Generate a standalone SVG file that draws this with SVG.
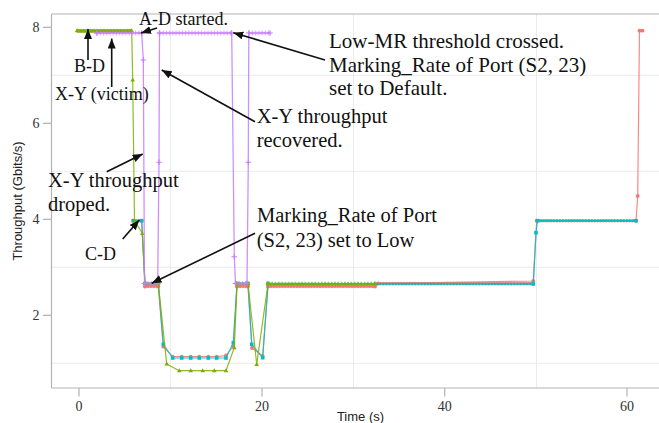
<svg xmlns="http://www.w3.org/2000/svg" width="659" height="423" viewBox="0 0 659 423">
<style>
.grid{stroke:#ececec;stroke-width:1;fill:none}
.axis{stroke:#b3b3b3;stroke-width:1.2;fill:none}
.tick{stroke:#b3b3b3;stroke-width:1.2}
.tl{font-family:"Liberation Serif",serif;font-size:14px;fill:#333}
.al{font-family:"Liberation Sans",Arial,sans-serif;font-size:13px;fill:#222}
.ann{font-family:"Liberation Serif",serif;fill:#111}
.s18{font-size:18px}
.s20{font-size:20.5px}
.s21{font-size:21px}
.arr{stroke:#111;stroke-width:1.6;fill:none;marker-end:url(#ah)}
.lnR{stroke:#F8766D;stroke-width:1.2;fill:none;stroke-opacity:.85;marker-start:url(#mR);marker-mid:url(#mR);marker-end:url(#mR)}
.lnC{stroke:#00BFC4;stroke-width:1.2;fill:none;stroke-opacity:.85;marker-start:url(#mC);marker-mid:url(#mC);marker-end:url(#mC)}
.lnG{stroke:#7CAE00;stroke-width:1.2;fill:none;stroke-opacity:.85;marker-start:url(#mG);marker-mid:url(#mG);marker-end:url(#mG)}
.lnP{stroke:#C77CFF;stroke-width:1.3;fill:none;stroke-opacity:.85;marker-start:url(#mP);marker-mid:url(#mP);marker-end:url(#mP)}
.dR{stroke:#F8766D;stroke-width:3.4;stroke-linecap:round;stroke-dasharray:0 2.9;opacity:.9}
.dC{stroke:#00BFC4;stroke-width:2.4;stroke-linecap:square;stroke-dasharray:0 3.2;opacity:.9}
.dPh{stroke:#C77CFF;stroke-width:2.6;opacity:.45}
.dPv{stroke:#C77CFF;stroke-width:5;stroke-dasharray:1 2.2;opacity:.6}
</style>
<defs>
<marker id="ah" markerUnits="userSpaceOnUse" markerWidth="12" markerHeight="10" refX="10" refY="4" orient="auto"><path d="M0,0 L10,4 L0,8 z" fill="#111"/></marker>
<marker id="mR" markerUnits="userSpaceOnUse" markerWidth="6" markerHeight="6" refX="3" refY="3"><circle cx="3" cy="3" r="1.9" fill="#F8766D"/></marker>
<marker id="mC" markerUnits="userSpaceOnUse" markerWidth="6" markerHeight="6" refX="3" refY="3"><rect x="1.2" y="1.2" width="3.6" height="3.6" fill="#00BFC4"/></marker>
<marker id="mG" markerUnits="userSpaceOnUse" markerWidth="6" markerHeight="6" refX="3" refY="3"><path d="M3,0.6 L5.3,4.6 L0.7,4.6 z" fill="#7CAE00"/></marker>
<marker id="mP" markerUnits="userSpaceOnUse" markerWidth="7" markerHeight="7" refX="3.5" refY="3.5"><path d="M0.7,3.5 H6.3 M3.5,0.7 V6.3" stroke="#C77CFF" stroke-width="1.1" fill="none"/></marker>
<pattern id="pTri" x="0" y="-3" width="3.3" height="6" patternUnits="userSpaceOnUse">
<path d="M1.65,1.1 L3.85,4.9 L-0.55,4.9 z M-1.65,1.1 L0.55,4.9 L-3.85,4.9 z M4.95,1.1 L7.15,4.9 L2.75,4.9 z" fill="#7CAE00"/>
</pattern>
</defs>
<rect width="659" height="423" fill="#fff"/>
<g id="grid">
<path class="grid" d="M52,75.3H659M52,171.3H659M52,267.3H659M52,363.3H659M170.5,14V388M353.5,14V388M536.5,14V388"/>
</g>
<g id="axes">
<path class="axis" d="M51.5,14H659M51.5,14V388M51.5,388H659"/>
<path class="tick" d="M43,27.3H51.5M43,123.3H51.5M43,219.3H51.5M43,315.3H51.5M79,388V396.5M262,388V396.5M444.7,388V396.5M627,388V396.5"/>
<text class="tl" x="39.5" y="32" text-anchor="end">8</text>
<text class="tl" x="39.5" y="128" text-anchor="end">6</text>
<text class="tl" x="39.5" y="224" text-anchor="end">4</text>
<text class="tl" x="39.5" y="320" text-anchor="end">2</text>
<text class="tl" x="79" y="411" text-anchor="middle">0</text>
<text class="tl" x="262" y="411" text-anchor="middle">20</text>
<text class="tl" x="444.7" y="411" text-anchor="middle">40</text>
<text class="tl" x="627" y="411" text-anchor="middle">60</text>
<text class="al" x="360.5" y="421" text-anchor="middle">Time (s)</text>
<text class="al" transform="translate(21.5,201) rotate(-90)" text-anchor="middle">Throughput (Gbits/s)</text>
</g>
<g id="series-red">
<polyline class="lnR" points="133.3,220.7 141.7,220.7 145,286.5 158.3,286.5 163.3,346.7 172.7,356.7 181.7,356.7 190.7,356.7 199.3,356.7 208.3,356.7 216.7,356.7 226,355.5 233.3,346 237,286.5 248,286.5 252,348 262.7,356 268,286.5 375,286.5 378,283.5 533.3,281 536.7,220.7 636,220.7 637.7,196 639.5,30.7 642.5,30.7"/>
<path class="dR" d="M133.3,220.7H141.7M145,286.5H158.3M237,286.5H248M268,286.5H375M378,283.5H533M536.7,220.7H636"/>
</g>
<g id="series-cyan">
<polyline class="lnC" points="133.3,220.7 141.7,220.7 145,283.5 158.3,283.5 163.3,344.3 172.7,358 181.7,358 190.7,358 199.3,358 208.3,358 216.7,358 226,358 233.3,342.7 237,283.5 248,283.5 251.7,344.3 262.7,357.7 268,283.5 533.3,284 536,232.7 537.5,220.7 636,220.7"/>
<path class="dC" d="M133.3,220.7H141.7M145,283.5H158.3M237,283.5H248M268,284H533.3M537.5,220.7H636"/>
</g>
<g id="series-green">
<polyline class="lnG" points="77,30.7 131.7,30.7 132.7,80 134.5,220.7 142.3,233.3 145,283.5 158.3,283.5 166.7,364 179.3,370.7 190.7,370.7 202.7,370.7 214.3,370.7 226,370.7 234.3,347.7 237,283.5 248,283.5 256.7,364.3 268,283.5 375,283.5"/>
<rect x="77" y="29.2" width="55" height="3" fill="#7CAE00"/>
<g transform="translate(0,30.7)"><rect x="77" y="-3" width="55" height="6" fill="url(#pTri)"/></g>
<g transform="translate(0,283.5)"><rect x="145" y="-3" width="13.3" height="6" fill="url(#pTri)"/><rect x="237" y="-3" width="11" height="6" fill="url(#pTri)"/><rect x="268" y="-3" width="107" height="6" fill="url(#pTri)"/></g>
</g>
<g id="series-purple">
<polyline class="lnP" points="96.7,33 141.7,33 143.3,60 144.5,283.5 157.7,283.5 159,162.3 159.5,33 231.7,33 234.3,256.7 235.5,283.5 247,283.5 248.3,162.3 248.8,33 270,33"/>
<path class="dPh" d="M94,33H142M157,33H232M248,33H271M143,283.5H158M234,283.5H248"/>
<path class="dPv" d="M96.7,33H141.7M159.5,33H231.7M248.8,33H270M144.5,283.5H157.7M235.5,283.5H247"/>
</g>
<g id="connectors">
<path class="arr" d="M157,28 L141,33"/>
<path class="arr" d="M88,60 L88,29"/>
<path class="arr" d="M111.7,87 L111.7,38.5"/>
<path class="arr" d="M106.7,171.7 L142.7,154"/>
<path class="arr" d="M122.7,239 L139.3,220"/>
<path class="arr" d="M255,233.3 L151.7,283.3"/>
<path class="arr" d="M255,121.7 L161.7,70"/>
<path class="arr" d="M325,60 L233.3,32.7"/>
</g>
<g id="label-ad"><text class="ann s18" x="139" y="25">A-D started.</text></g>
<g id="label-bd"><text class="ann s18" x="74" y="71.7">B-D</text></g>
<g id="label-xy-victim"><text class="ann s18" x="55" y="100">X-Y (victim)</text></g>
<g id="label-dropped"><text class="ann s20" x="48" y="187">X-Y throughput</text><text class="ann s20" x="48" y="211">droped.</text></g>
<g id="label-cd"><text class="ann s18" x="85" y="260">C-D</text></g>
<g id="label-recovered"><text class="ann s20" x="256.7" y="123.3">X-Y throughput</text><text class="ann s20" x="256.7" y="146.7">recovered.</text></g>
<g id="label-low"><text class="ann s20" x="257" y="221.7">Marking_Rate of Port</text><text class="ann s20" x="256.7" y="246.7">(S2, 23) set to Low</text></g>
<g id="label-default"><text class="ann s21" x="329" y="48.3">Low-MR threshold crossed.</text><text class="ann s21" x="329" y="71.7">Marking_Rate of Port (S2, 23)</text><text class="ann s21" x="329" y="95">set to Default.</text></g>
</svg>
